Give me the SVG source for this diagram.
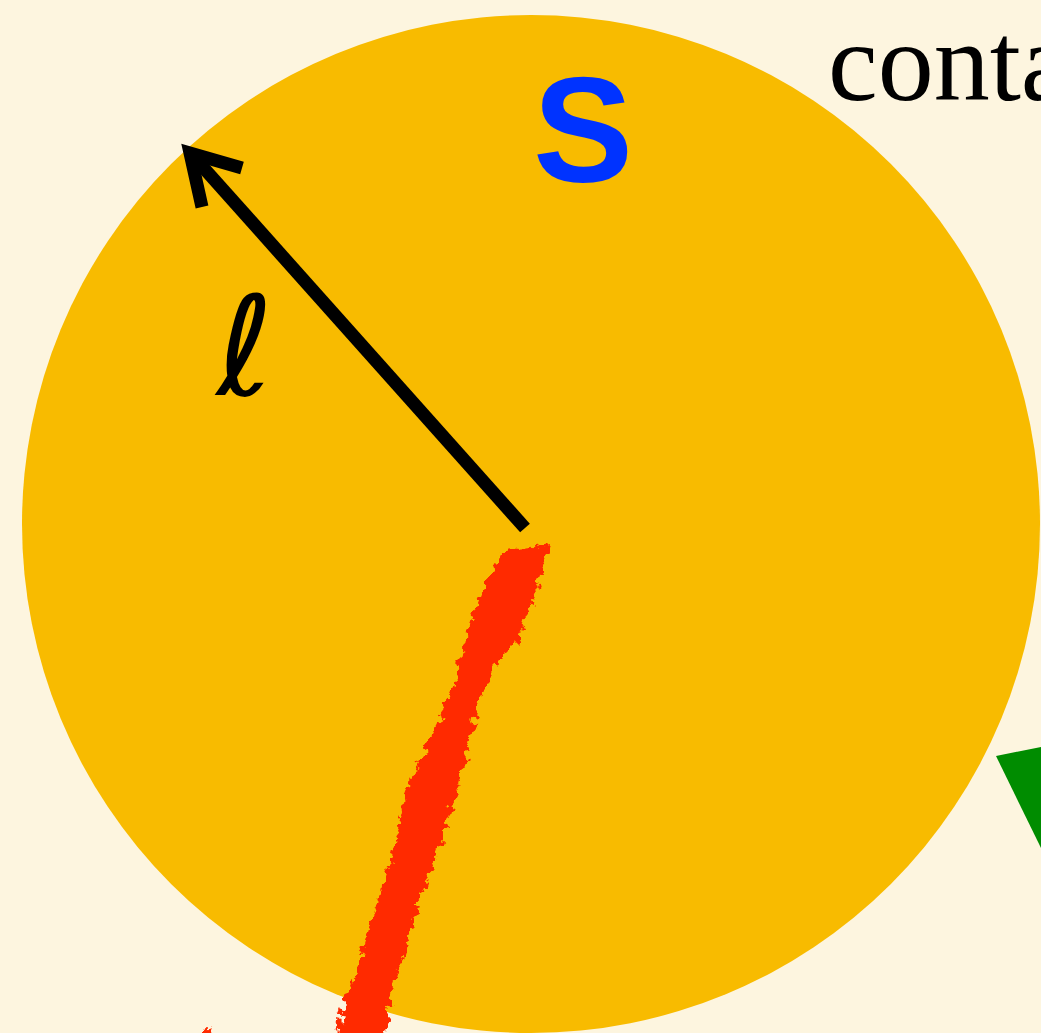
<svg xmlns="http://www.w3.org/2000/svg" width="1041" height="1033" viewBox="0 0 1041 1033">
<defs>
<filter id="rough" x="-20%" y="-5%" width="140%" height="110%">
<feTurbulence type="fractalNoise" baseFrequency="0.12" numOctaves="3" seed="4" result="n"/>
<feDisplacementMap in="SourceGraphic" in2="n" scale="16" xChannelSelector="R" yChannelSelector="G"/>
</filter>
<style>
.arrow{fill:none;stroke:#000;stroke-width:13;stroke-linecap:butt}
</style>
</defs>
<rect width="1041" height="1033" fill="#FDF5DF"/>
<g id="disk">
<circle cx="531" cy="524" r="509" fill="#F8BB00"/>
</g>
<g id="triangle">
<polygon points="996,756 1041,747 1041,848" fill="#008C00"/>
</g>
<g id="label-contains">
<text x="828" y="100" font-family="Liberation Serif, serif" font-size="112" fill="#000">conta</text>
</g>
<g id="label-S">
<text x="583" y="182" text-anchor="middle" font-family="Liberation Sans, Arial, sans-serif" font-weight="bold" font-size="150" fill="#0033FF">S</text>
</g>
<g id="connectors">
<line class="arrow" x1="525" y1="528" x2="193" y2="156"/>
<polyline class="arrow" points="202,207 190,153 242,168" stroke-linejoin="miter"/>
</g>
<g id="label-ell">
<text x="245" y="395" text-anchor="middle" font-family="DejaVu Sans, sans-serif" font-size="138" fill="#000">ℓ</text>
</g>
<g id="stroke" filter="url(#rough)">
<path d="M505,550 L490,575 L475,610 L465,640 L455,680 L440,720 L420,760 L405,790 L398,830 L388,870 L375,910 L360,960 L345,1000 L335,1045 L382,1045 L392,990 L405,950 L420,900 L435,860 L448,820 L460,780 L470,740 L480,700 L495,665 L515,645 L525,620 L540,580 L552,545 Z" fill="#FF2A00"/>
<circle cx="206" cy="1033" r="5" fill="#FF2A00"/>
</g>
</svg>
